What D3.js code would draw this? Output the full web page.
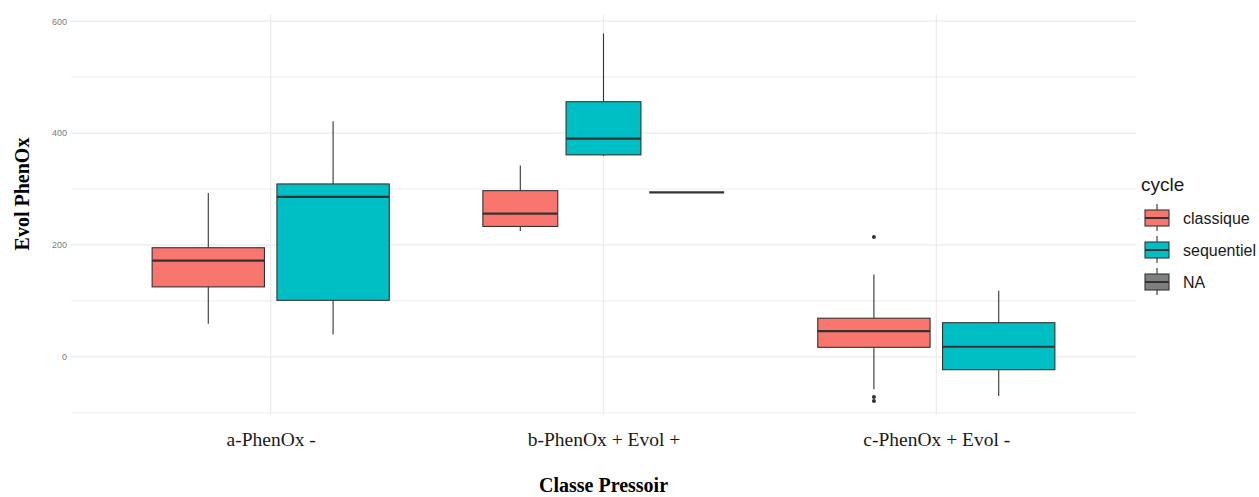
<!DOCTYPE html>
<html>
<head>
<meta charset="utf-8">
<script src="https://cdn.jsdelivr.net/npm/d3@7"></script>
<style>
  body { margin: 0; background: #fff; }
</style>
</head>
<body>
<div id="chart"></div>
<script>
'use strict';

// categories on the x axis
const categories = ["a-PhenOx -", "b-PhenOx + Evol +", "c-PhenOx + Evol -"];
const cycles = ["classique", "sequentiel", "NA"];
const cycleColors = ["#F8766D", "#00BFC4", "#7F7F7F"];

// one entry per box
const boxCategory = ["a-PhenOx -", "a-PhenOx -", "b-PhenOx + Evol +", "b-PhenOx + Evol +", "b-PhenOx + Evol +", "c-PhenOx + Evol -", "c-PhenOx + Evol -"];
const boxCycle    = ["classique", "sequentiel", "classique", "sequentiel", "NA", "classique", "sequentiel"];
const whiskerLow  = [59, 40, 225, 359, 294, -58, -70];
const q1          = [125, 101, 233, 361, 294, 17, -23];
const median      = [172, 286, 256, 390, 294, 46, 18];
const q3          = [195, 309, 297, 456, 294, 69, 61];
const whiskerHigh = [293, 421, 342, 578, 294, 147, 118];
const outliers    = [[], [], [], [], [], [214, -72, -79], []];

const yTicks = [0, 200, 400, 600];
const yMinorTicks = [-100, 100, 300, 500];

const width = 1259, height = 497;
const margin = {top: 15, right: 123, bottom: 82, left: 71};

const svg = d3.select("#chart").append("svg")
  .attr("width", width)
  .attr("height", height);

const x = d3.scalePoint()
  .domain(categories)
  .range([margin.left, width - margin.right])
  .padding(0.6);

const y = d3.scaleLinear()
  .domain([-104, 611])
  .range([height - margin.bottom, margin.top]);

const step = x.step();

// grid
const grid = svg.append("g");
grid.selectAll("line.minor")
  .data(yMinorTicks)
  .enter().append("line")
  .attr("x1", margin.left).attr("x2", width - margin.right)
  .attr("y1", d => y(d)).attr("y2", d => y(d))
  .attr("stroke", "#EBEBEB").attr("stroke-width", 0.8);
grid.selectAll("line.major")
  .data(yTicks)
  .enter().append("line")
  .attr("x1", margin.left).attr("x2", width - margin.right)
  .attr("y1", d => y(d)).attr("y2", d => y(d))
  .attr("stroke", "#EBEBEB").attr("stroke-width", 1.2);
grid.selectAll("line.vert")
  .data(categories)
  .enter().append("line")
  .attr("x1", d => x(d)).attr("x2", d => x(d))
  .attr("y1", margin.top).attr("y2", height - margin.bottom)
  .attr("stroke", "#EBEBEB").attr("stroke-width", 1.2);

// axes
const yAxis = d3.axisLeft(y).tickValues(yTicks).tickSize(0).tickPadding(4);
svg.append("g")
  .attr("transform", `translate(${margin.left},0)`)
  .call(yAxis)
  .call(g => g.select(".domain").remove())
  .call(g => g.selectAll("text")
    .attr("fill", "#7a7a7a")
    .style("font-family", "Liberation Sans, Arial, sans-serif")
    .style("font-size", "9px"));

const xAxis = d3.axisBottom(x).tickSize(0).tickPadding(17);
svg.append("g")
  .attr("transform", `translate(0,${height - margin.bottom})`)
  .call(xAxis)
  .call(g => g.select(".domain").remove())
  .call(g => g.selectAll("text")
    .attr("fill", "#1a1a1a")
    .style("font-family", "Liberation Serif, Times New Roman, serif")
    .style("font-size", "19.5px"));

// titles
svg.append("text")
  .attr("x", (margin.left + width - margin.right) / 2)
  .attr("y", 492)
  .attr("text-anchor", "middle")
  .style("font-family", "Liberation Serif, Times New Roman, serif")
  .style("font-weight", "bold")
  .style("font-size", "20px")
  .text("Classe Pressoir");

svg.append("text")
  .attr("transform", "translate(29,194) rotate(-90)")
  .attr("text-anchor", "middle")
  .style("font-family", "Liberation Serif, Times New Roman, serif")
  .style("font-weight", "bold")
  .style("font-size", "20px")
  .text("Evol PhenOx");

// boxes, dodged inside each category
const boxes = boxCategory.map((c, i) => ({
  category: c,
  cycle: boxCycle[i],
  low: whiskerLow[i], q1: q1[i], median: median[i], q3: q3[i], high: whiskerHigh[i],
  outliers: outliers[i]
}));

const color = d3.scaleOrdinal().domain(cycles).range(cycleColors);

boxes.forEach(d => {
  const members = boxes.filter(b => b.category === d.category).map(b => b.cycle);
  const inner = d3.scaleBand()
    .domain(members)
    .range([-0.375 * step, 0.375 * step]);
  d.cx = x(d.category) + inner(d.cycle) + inner.bandwidth() / 2;
  d.w = inner.bandwidth() * 0.9;
});

const g = svg.append("g")
  .selectAll("g")
  .data(boxes)
  .enter().append("g");

g.append("line")
  .attr("x1", d => d.cx).attr("x2", d => d.cx)
  .attr("y1", d => y(d.q3)).attr("y2", d => y(d.high))
  .attr("stroke", "#333").attr("stroke-width", 1.1);
g.append("line")
  .attr("x1", d => d.cx).attr("x2", d => d.cx)
  .attr("y1", d => y(d.q1)).attr("y2", d => y(d.low))
  .attr("stroke", "#333").attr("stroke-width", 1.1);

g.append("rect")
  .attr("x", d => d.cx - d.w / 2)
  .attr("width", d => d.w)
  .attr("y", d => y(d.q3))
  .attr("height", d => y(d.q1) - y(d.q3))
  .attr("fill", d => color(d.cycle))
  .attr("stroke", "#333").attr("stroke-width", 1.1);

g.append("line")
  .attr("x1", d => d.cx - d.w / 2).attr("x2", d => d.cx + d.w / 2)
  .attr("y1", d => y(d.median)).attr("y2", d => y(d.median))
  .attr("stroke", "#333").attr("stroke-width", 2.2);

g.selectAll("circle")
  .data(d => d.outliers.map(v => ({cx: d.cx, v: v})))
  .enter().append("circle")
  .attr("cx", d => d.cx)
  .attr("cy", d => y(d.v))
  .attr("r", 2)
  .attr("fill", "#333");

// legend
const legend = svg.append("g").attr("transform", "translate(1141,0)");
legend.append("text")
  .attr("x", 0).attr("y", 191)
  .style("font-family", "Liberation Sans, Arial, sans-serif")
  .style("font-size", "19px")
  .attr("fill", "#1a1a1a")
  .text("cycle");

const item = legend.selectAll("g.item")
  .data(cycles)
  .enter().append("g")
  .attr("transform", (d, i) => `translate(0,${218 + i * 32})`);

item.append("line")
  .attr("x1", 16).attr("x2", 16)
  .attr("y1", -14).attr("y2", 13)
  .attr("stroke", "#333").attr("stroke-width", 1.1);
item.append("rect")
  .attr("x", 4).attr("y", -8)
  .attr("width", 24).attr("height", 16)
  .attr("fill", d => color(d))
  .attr("stroke", "#333").attr("stroke-width", 1.1);
item.append("line")
  .attr("x1", 4).attr("x2", 28)
  .attr("y1", 0).attr("y2", 0)
  .attr("stroke", "#333").attr("stroke-width", 2);
item.append("text")
  .attr("x", 42).attr("y", 6)
  .style("font-family", "Liberation Sans, Arial, sans-serif")
  .style("font-size", "16px")
  .attr("fill", "#1a1a1a")
  .text(d => d);
</script>
</body>
</html>
